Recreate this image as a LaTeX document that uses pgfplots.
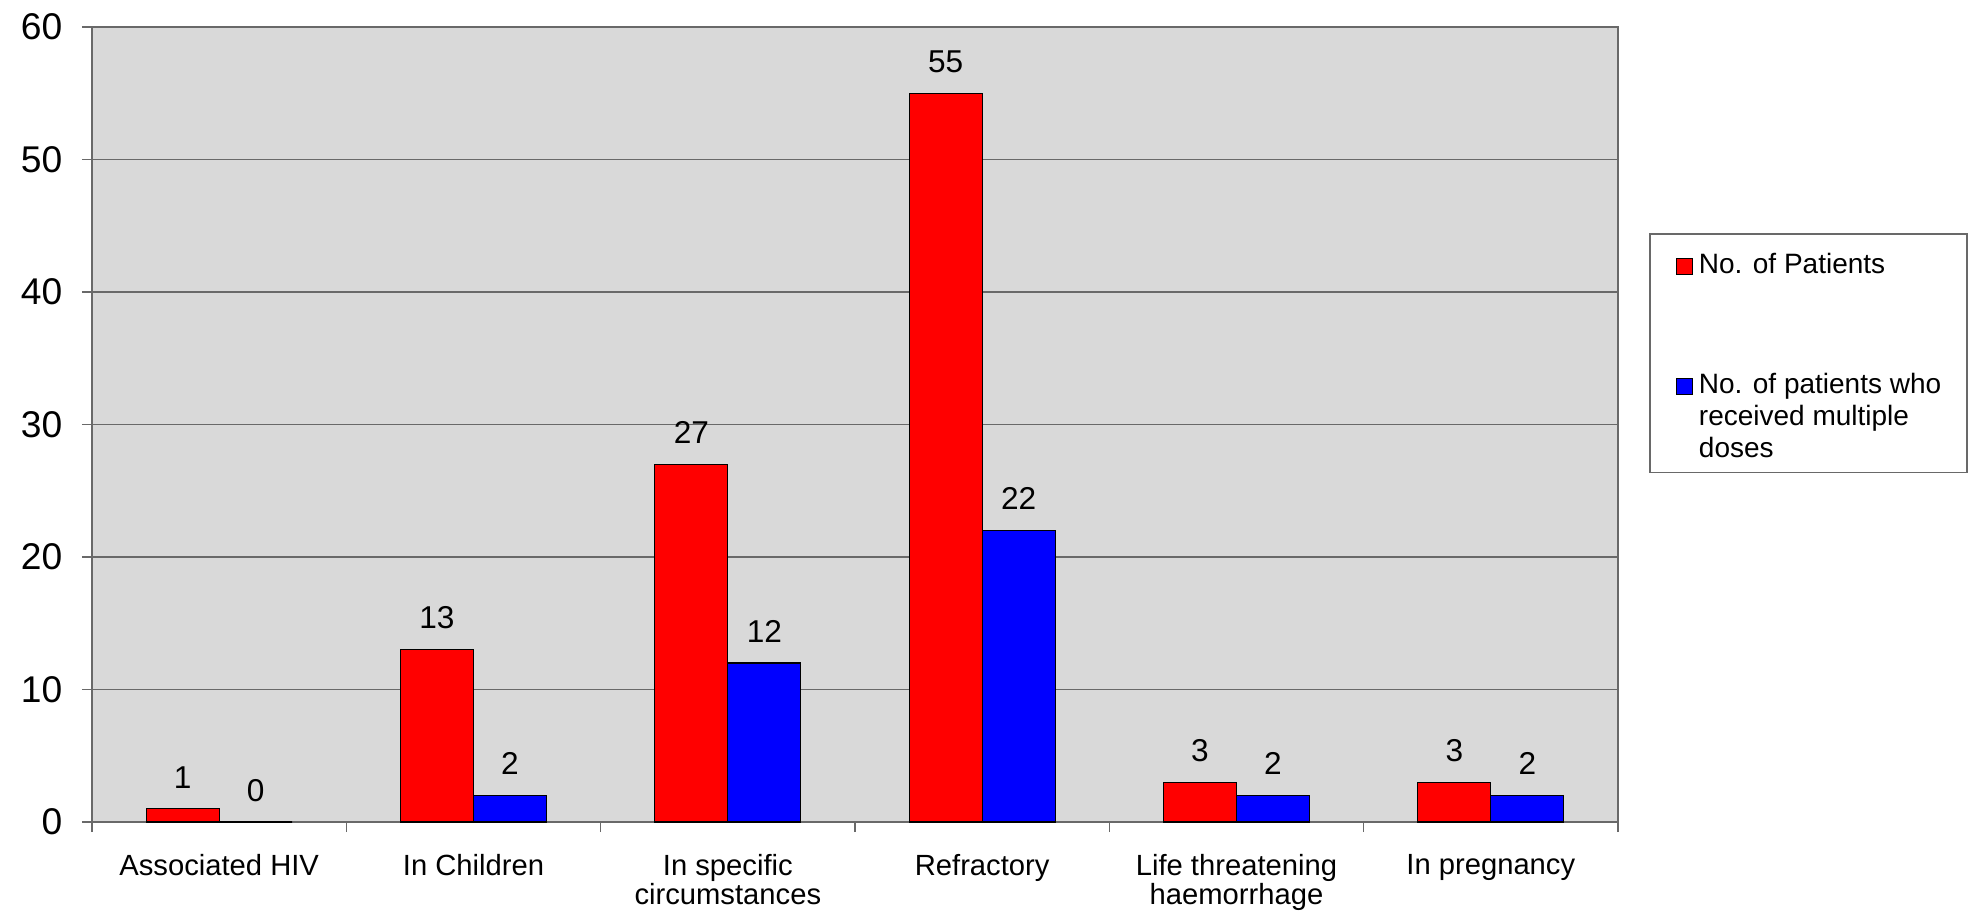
\documentclass[border=0pt]{standalone}
\usepackage{pgfplots}
\pgfplotsset{compat=1.18}
\usepackage{fontspec}
\setmainfont{Liberation Sans}

\definecolor{plotbg}{RGB}{217,217,217}
\definecolor{linegray}{RGB}{105,105,105}
\definecolor{barred}{RGB}{255,0,0}
\definecolor{barblue}{RGB}{0,0,255}

% small square legend marker with a thin black outline
\pgfplotsset{
  sq legend/.style={
    legend image code/.code={
      \draw[##1, draw=black, line width=0.3pt] (0pt,-2pt) rectangle (4pt,2pt);
    }
  }
}

\begin{document}
\begin{tikzpicture}
\path[use as bounding box] (-23pt,-22.75pt) rectangle (469pt,205.5pt);
\begin{axis}[
  at={(0,0)}, anchor=south west,
  scale only axis, width=381.5pt, height=198.75pt,
  ybar=0pt, bar width=18.25pt,
  xmin=-0.5, xmax=5.5, ymin=0, ymax=60,
  xtick={-0.5,0.5,...,5.5}, xticklabels={},
  extra x ticks={0,1,2,3,4,5},
  extra x tick labels={Associated HIV, In Children, In specific\\circumstances, Refractory, Life threatening\\haemorrhage, In pregnancy},
  extra x tick style={major tick length=0pt},
  ytick={0,10,...,60},
  xtick pos=bottom, ytick pos=left,
  tick align=outside, major tick length=2.5pt,
  tick style={linegray, line width=0.4pt},
  axis line style={linegray, line width=0.4pt},
  ymajorgrids, grid style={linegray, line width=0.4pt},
  axis background/.style={fill=plotbg},
  /pgf/number format/assume math mode=true,
  yticklabel style={font=\fontsize{9.3}{10}\selectfont, anchor=east, inner sep=0pt, xshift=-4.75pt},
  xticklabel style={font=\fontsize{7.3}{7.3}\selectfont, align=center, anchor=north, inner sep=0pt, yshift=-7.9pt},
  nodes near coords,
  nodes near coords style={font=\fontsize{7.9}{8}\selectfont, anchor=south, inner sep=0pt, yshift=5pt, text=black},
  every axis plot post/.append style={sq legend},
  legend style={at={(rel axis cs:1.0203,0.7409)}, anchor=north west,
    draw=linegray, line width=0.4pt, fill=white,
    inner xsep=6.5pt, inner ysep=0pt, row sep=0pt, column sep=1.5pt,
    font=\fontsize{7}{8}\selectfont, nodes={inner sep=0pt},
    cells={anchor=west}},
]
\addplot[fill=barred, draw=black, line width=0.3pt]
  coordinates {(0,1) (1,13) (2,27) (3,55) (4,3) (5,3)};
\addplot[fill=barblue, draw=black, line width=0.3pt]
  coordinates {(0,0) (1,2) (2,12) (3,22) (4,2) (5,2)};
\addlegendentry{\raisebox{5pt}[15pt][0pt]{No. of Patients}}
\addlegendentry{\raisebox{18.35pt}[41.7pt][0pt]{\begin{tabular}[t]{@{}l@{}}No. of patients who\\received multiple\\doses\end{tabular}}}
\end{axis}
\end{tikzpicture}
\end{document}
